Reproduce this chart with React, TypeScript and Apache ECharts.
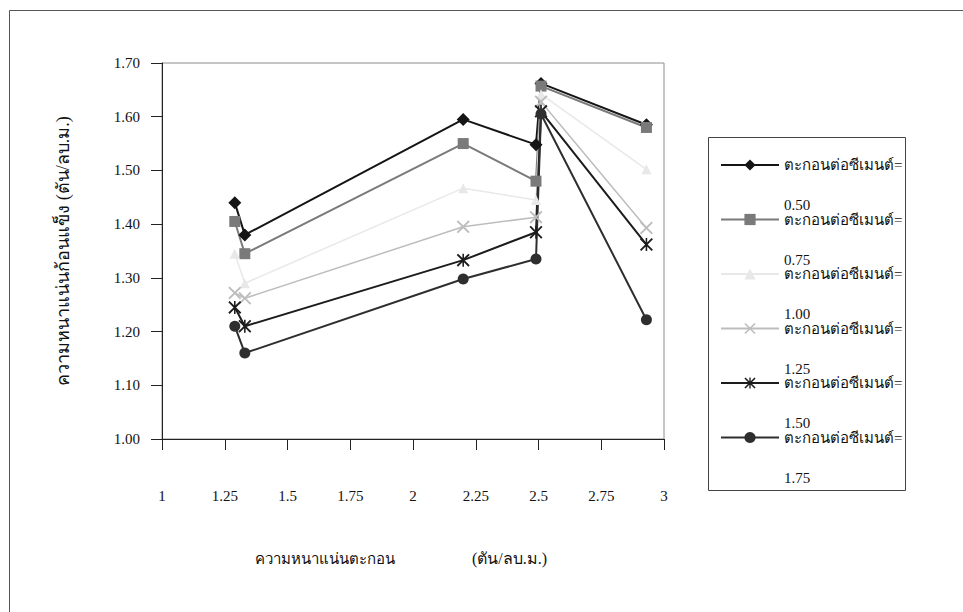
import React, { useEffect, useRef } from "react";
import * as echarts from "echarts";

// Sediment density (t/m³) at which each specimen was cast
const sedimentDensity = [1.29, 1.33, 2.2, 2.49, 2.51, 2.93];

// Sediment-to-cement ratios, one series each
const ratioLabels = ["0.50", "0.75", "1.00", "1.25", "1.50", "1.75"];

// Hardened block density (t/m³) per ratio
const ratio050 = [1.44, 1.38, 1.595, 1.548, 1.662, 1.585];
const ratio075 = [1.405, 1.345, 1.55, 1.48, 1.657, 1.58];
const ratio100 = [1.345, 1.29, 1.467, 1.445, 1.642, 1.502];
const ratio125 = [1.272, 1.262, 1.395, 1.413, 1.628, 1.393];
const ratio150 = [1.245, 1.21, 1.333, 1.385, 1.61, 1.362];
const ratio175 = [1.21, 1.16, 1.298, 1.335, 1.605, 1.222];

const seriesValues = [ratio050, ratio075, ratio100, ratio125, ratio150, ratio175];

const X_PATH =
  "path://M0,1 L1,0 L5,4 L9,0 L10,1 L6,5 L10,9 L9,10 L5,6 L1,10 L0,9 L4,5 Z";
const STAR_PATH =
  "path://M0,1 L1,0 L5,4 L9,0 L10,1 L6,5 L10,9 L9,10 L5,6 L1,10 L0,9 L4,5 Z M4.4,0 L5.6,0 L5.6,10 L4.4,10 Z";

const styles = [
  { color: "#151515", symbol: "diamond", size: 13, width: 2 },
  { color: "#7a7a7a", symbol: "rect", size: 11, width: 2 },
  { color: "#e8e8e8", symbol: "triangle", size: 10, width: 1.5 },
  { color: "#bdbdbd", symbol: X_PATH, size: 13, width: 1.5 },
  { color: "#1c1c1c", symbol: STAR_PATH, size: 13, width: 2 },
  { color: "#2e2e2e", symbol: "circle", size: 11, width: 2 },
];

const SERIF = "'Liberation Serif', 'Times New Roman', serif";

// Legend rows: ratio caption sits on the line below the marker text
const LEGEND_LINE = 40;
const LEGEND_PITCH = 54.5;

export default function App() {
  const ref = useRef<HTMLDivElement>(null);

  useEffect(() => {
    if (!ref.current) return;
    const chart = echarts.init(ref.current, undefined, { renderer: "svg" });

    const series = seriesValues.map((vals, i) => ({
      name: "ตะกอนต่อซีเมนต์=" + ratioLabels[i],
      type: "line",
      data: vals.map((v, j) => [sedimentDensity[j], v]),
      symbol: styles[i].symbol,
      symbolSize: styles[i].size,
      showAllSymbol: true,
      lineStyle: { color: styles[i].color, width: styles[i].width },
      itemStyle: { color: styles[i].color },
      emphasis: { disabled: true },
    }));

    chart.setOption({
      animation: false,
      backgroundColor: "#ffffff",
      textStyle: { fontFamily: SERIF },
      grid: {
        left: 162,
        top: 63,
        right: 299,
        bottom: 173,
        show: true,
        borderColor: "#8c8c8c",
        borderWidth: 1,
      },
      xAxis: {
        type: "value",
        min: 1,
        max: 3,
        interval: 0.25,
        axisLine: { show: true, onZero: false, lineStyle: { color: "#222", width: 1 } },
        axisTick: { show: true, inside: false, length: 11, lineStyle: { color: "#222" } },
        splitLine: { show: false },
        axisLabel: {
          margin: 49,
          color: "#111",
          fontSize: 15,
          fontFamily: SERIF,
        },
      },
      yAxis: {
        type: "value",
        min: 1,
        max: 1.7,
        interval: 0.1,
        name: "ความหนาแน่นก้อนแข็ง (ตัน/ลบ.ม.)",
        nameLocation: "middle",
        nameGap: 90,
        nameRotate: 90,
        nameTextStyle: { fontSize: 18, color: "#111", fontFamily: SERIF },
        axisLine: { show: true, onZero: false, lineStyle: { color: "#222", width: 1 } },
        axisTick: { show: true, inside: false, length: 11, lineStyle: { color: "#222" } },
        splitLine: { show: false },
        axisLabel: {
          margin: 22,
          color: "#111",
          fontSize: 15,
          fontFamily: SERIF,
          formatter: (v: number) => v.toFixed(2),
        },
      },
      legend: {
        orient: "vertical",
        left: 720,
        top: 165 - 1.5 * LEGEND_LINE,
        padding: 0,
        itemWidth: 58,
        itemHeight: 14,
        itemGap: LEGEND_PITCH - 3 * LEGEND_LINE,
        selectedMode: false,
        formatter: (name: string) => "\n" + name.replace("=", "=\n"),
        textStyle: {
          fontSize: 15,
          lineHeight: LEGEND_LINE,
          color: "#111",
          fontFamily: SERIF,
        },
        data: series.map((s) => s.name),
      },
      graphic: [
        {
          type: "rect",
          silent: true,
          shape: { x: 9.5, y: 10.5, width: 1200, height: 900 },
          style: { fill: "none", stroke: "#555", lineWidth: 1 },
        },
        {
          type: "rect",
          silent: true,
          shape: { x: 708.5, y: 137.5, width: 197, height: 353 },
          style: { fill: "none", stroke: "#444", lineWidth: 1 },
        },
        {
          type: "text",
          left: 255,
          top: 551,
          style: {
            text: "ความหนาแน่นตะกอน",
            fontSize: 15,
            fontFamily: SERIF,
            fill: "#111",
          },
        },
        {
          type: "text",
          left: 472,
          top: 550,
          style: {
            text: "(ตัน/ลบ.ม.)",
            fontSize: 16,
            fontFamily: SERIF,
            fill: "#111",
          },
        },
      ],
      series,
    });

    return () => chart.dispose();
  }, []);

  return (
    <div
      ref={ref}
      style={{ position: "absolute", left: 0, top: 0, width: 963, height: 612 }}
    />
  );
}
